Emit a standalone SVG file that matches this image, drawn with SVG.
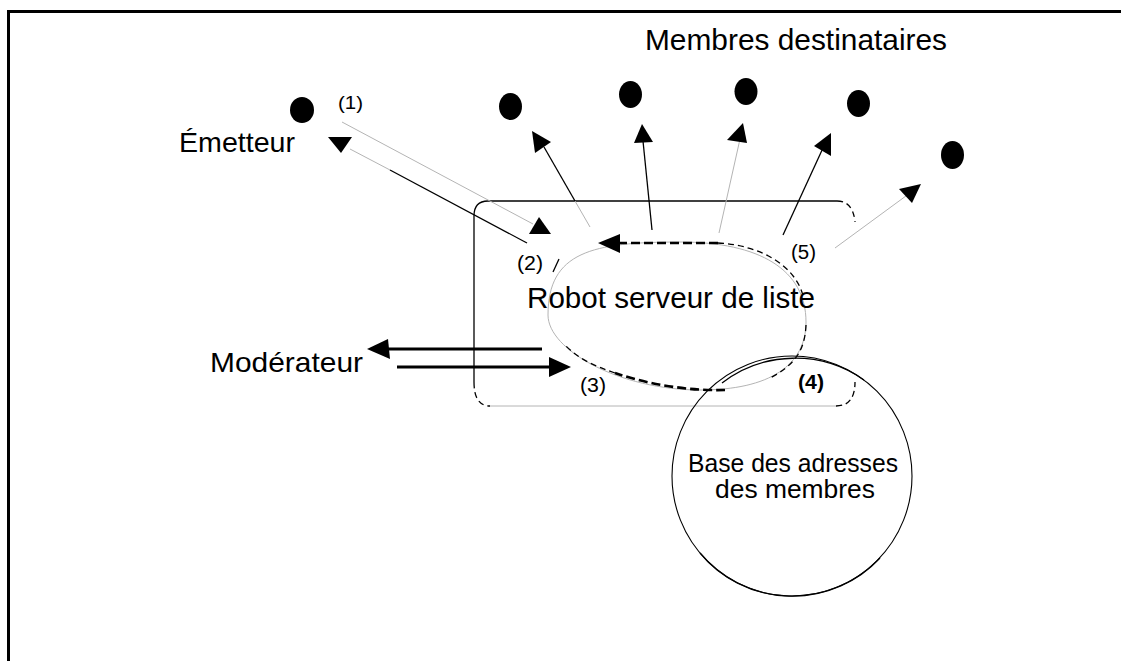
<svg xmlns="http://www.w3.org/2000/svg" width="1121" height="661" viewBox="0 0 1121 661">
<style>
text{font-family:"Liberation Sans",Arial,sans-serif;fill:#000}
.dot{fill:#000}
.head{fill:#000;stroke:none}
.blk{fill:none;stroke:#000;stroke-width:1.3}
.gry{fill:none;stroke:#b4b4b4;stroke-width:1}
.thick{fill:none;stroke:#000;stroke-width:3}
.dsh{fill:none;stroke:#000;stroke-width:1.3;stroke-dasharray:6 4}
.dshk{fill:none;stroke:#000;stroke-width:2.6;stroke-dasharray:9 4}
</style>
<rect x="0" y="0" width="1121" height="661" fill="#fff"/>
<g id="frame">
<path d="M8.5,661 V11.5 H1121" fill="none" stroke="#000" stroke-width="3"/>
</g>
<g id="title">
<text x="645" y="50" font-size="29" textLength="302" lengthAdjust="spacingAndGlyphs">Membres destinataires</text>
</g>
<g id="emetteur">
<ellipse class="dot" cx="302" cy="110" rx="12" ry="13"/>
<text x="179" y="152" font-size="28" textLength="116" lengthAdjust="spacingAndGlyphs">Émetteur</text>
</g>
<g id="membre1"><ellipse class="dot" cx="510.5" cy="106.5" rx="11.5" ry="13.5"/></g>
<g id="membre2"><ellipse class="dot" cx="630.5" cy="94.5" rx="11.5" ry="13.5"/></g>
<g id="membre3"><ellipse class="dot" cx="746" cy="91.5" rx="11.5" ry="13.5"/></g>
<g id="membre4"><ellipse class="dot" cx="858.5" cy="103.5" rx="11.5" ry="13.5"/></g>
<g id="membre5"><ellipse class="dot" cx="952.5" cy="155" rx="11.5" ry="14"/></g>
<g id="liste-box">
<path class="blk" d="M488,201 H837" stroke-width="1.6"/>
<path class="blk" d="M488,201 Q474,201 474,216"/>
<path class="blk" d="M474,216 V382" stroke-width="1.6"/>
<path class="dsh" d="M474,382 Q474,406 490,406" stroke-width="1"/>
<path class="gry" d="M490,406 H836"/>
<path class="dsh" d="M836,406 Q855,406 855,382" stroke-width="1"/>
<path class="dsh" d="M837,201 Q853,201 855,222" stroke-width="1"/>
</g>
<g id="robot">
<path class="gry" d="M548,315 C548,252 592,242 680,242 C760,242 806,270 806,322 C806,365 770,390 700,390 C620,390 548,350 548,315 Z" stroke="#e4e4e4"/>
<path class="dsh" d="M718,243 C760,245 798,266 804,300" stroke-width="1.1"/>
<path class="dsh" d="M806,325 C805,350 795,365 770,378" stroke-width="1.1"/>
<path class="dshk" d="M725,390 C690,391 650,385 615,373"/>
<path class="dsh" d="M615,373 C595,366 580,360 566,346" stroke-width="1.1"/>
<path class="blk" d="M553,272 L559,259" stroke-width="1"/>
<text x="527" y="308" font-size="29" textLength="288" lengthAdjust="spacingAndGlyphs">Robot serveur de liste</text>
</g>
<g id="base">
<circle cx="792" cy="476" r="120" fill="none" stroke="#000" stroke-width="1.1"/>
<path class="blk" d="M722,383 A120,120 0 0 1 864,380" stroke-width="2"/>
<path class="blk" d="M880,558 A120,120 0 0 1 700,553" stroke-width="2"/>
<text x="793" y="472" font-size="25" text-anchor="middle" textLength="210" lengthAdjust="spacingAndGlyphs">Base des adresses</text>
<text x="795" y="498" font-size="25" text-anchor="middle" textLength="160" lengthAdjust="spacingAndGlyphs">des membres</text>
</g>
<g id="moderateur">
<text x="210" y="372" font-size="28" textLength="153" lengthAdjust="spacingAndGlyphs">Modérateur</text>
</g>
<g id="connectors">
<line class="gry" x1="342" y1="122" x2="533" y2="224"/>
<polygon class="head" points="539,217 529,234 551,234"/>
<line class="gry" x1="350" y1="149" x2="390" y2="170"/>
<line class="blk" x1="390" y1="170" x2="527" y2="243"/>
<polygon class="head" points="328,137 352,137 341,153"/>
<line class="gry" x1="590" y1="227" x2="575" y2="201"/>
<line class="blk" x1="575" y1="201" x2="544" y2="147"/>
<polygon class="head" points="532,131 551,142 535,153"/>
<line class="blk" x1="652" y1="230" x2="643" y2="141" stroke-width="2.4"/>
<polygon class="head" points="642,124 634,143 653,142"/>
<line class="gry" x1="719" y1="233" x2="740" y2="139"/>
<polygon class="head" points="743,123 727,140 747,143"/>
<line class="blk" x1="783" y1="235" x2="823" y2="148"/>
<polygon class="head" points="831,133 814,146 831,156"/>
<line class="gry" x1="835" y1="248" x2="910" y2="193"/>
<polygon class="head" points="921,184 899,189 912,203"/>
<line class="dshk" x1="718" y1="243" x2="618" y2="243" stroke-width="3"/>
<polygon class="head" points="598,243 620,234 620,253"/>
<line class="thick" x1="542" y1="349" x2="385" y2="349"/>
<polygon class="head" points="367,349 388,339 390,359"/>
<line class="thick" x1="397" y1="367" x2="552" y2="367"/>
<polygon class="head" points="571,367 549,357 549,377"/>
<text x="338" y="109" font-size="18" textLength="25" lengthAdjust="spacingAndGlyphs">(1)</text>
<text x="517" y="270" font-size="20" textLength="26" lengthAdjust="spacingAndGlyphs">(2)</text>
<text x="580" y="392" font-size="20" textLength="26" lengthAdjust="spacingAndGlyphs">(3)</text>
<text x="798" y="389" font-size="20" font-weight="bold" textLength="26" lengthAdjust="spacingAndGlyphs">(4)</text>
<text x="791" y="259" font-size="20" textLength="25" lengthAdjust="spacingAndGlyphs">(5)</text>
</g>
</svg>
